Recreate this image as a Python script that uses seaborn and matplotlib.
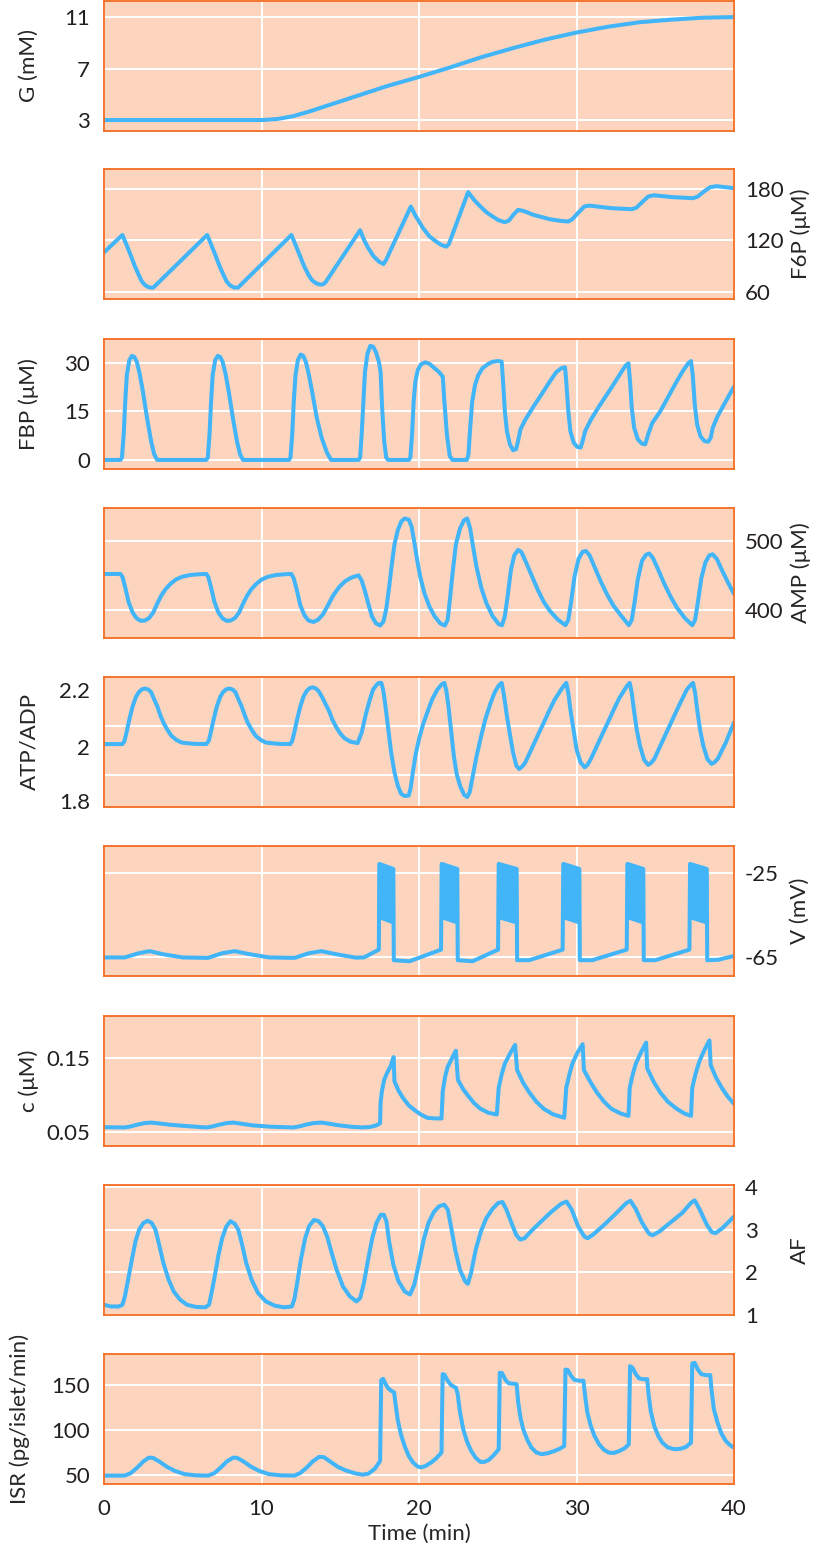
import numpy as np
import pandas as pd
import seaborn as sns
import matplotlib.pyplot as plt

# ---- values (time in min) ----
g_t = [0, 10, 11, 12, 13, 14, 15, 16, 17, 18, 19, 20, 22, 24, 26, 28, 30, 32, 34, 36, 38, 40]
g_val = [3, 3, 3.08, 3.3, 3.65, 4.05, 4.45, 4.85, 5.25, 5.65, 6.0, 6.35, 7.1, 7.9, 8.6, 9.25,
         9.8, 10.25, 10.6, 10.8, 10.95, 11.0]

f6p_t = [0, 1.17, 1.45, 1.69, 1.95, 2.21, 2.4, 2.6, 2.85, 3.12,
         6.55, 6.83, 7.07, 7.33, 7.59, 7.78, 7.98, 8.23, 8.5,
         11.9, 12.18, 12.42, 12.7, 12.99, 13.2, 13.45, 13.7, 13.9, 14.05,
         16.26, 16.5, 16.75, 17.1, 17.45, 17.74, 17.9,
         19.48, 19.8, 20.26, 20.65, 21.04, 21.4, 21.74, 21.9,
         23.12, 23.5, 23.9, 24.3, 24.68, 25.05, 25.45, 25.7, 26.0, 26.29, 26.6, 27.27, 28.3,
         29.0, 29.48, 29.75, 30.15, 30.5, 30.8, 32.2, 33.5, 33.8, 34.2, 34.55, 34.9, 36.1,
         37.4, 37.7, 38.1, 38.5, 38.9, 40]
f6p_val = [106.2, 126.4, 114, 103.1, 90.5, 79.8, 72.5, 68.2, 65.5, 65.1,
           126.4, 114, 103.1, 90.5, 79.8, 72.5, 68.2, 65.5, 65.1,
           126.4, 114, 103.1, 90.5, 79.8, 74, 70.5, 68.8, 69, 71,
           131.9, 121, 112, 102, 95.5, 92.6, 97,
           159.4, 148, 134.2, 125, 119.4, 115, 112.8, 116,
           176.1, 167, 159.4, 152.5, 147.8, 143.5, 141.2, 143, 150, 155.5, 154.5, 149.7, 144.7,
           142.7, 142, 145, 153, 159.5, 160.5, 157.5, 156.3, 158, 165, 171, 172.5, 170.3,
           169.1, 171, 177, 182, 183, 180.8]

fbp_t = [0, 1.04, 1.14, 1.25, 1.35, 1.45, 1.61, 1.77, 1.92, 2.08, 2.26, 2.47, 2.73, 2.99, 3.19, 3.38,
         6.49, 6.59, 6.70, 6.80, 6.90, 7.06, 7.22, 7.37, 7.53, 7.71, 7.92, 8.18, 8.44, 8.64, 8.83,
         11.74, 11.84, 11.95, 12.05, 12.16, 12.31, 12.49, 12.65, 12.81, 12.99, 13.25, 13.51,
         13.82, 14.16, 14.42,
         16.16, 16.26, 16.36, 16.47, 16.57, 16.73, 16.91, 17.09, 17.27, 17.45, 17.56, 17.66,
         17.79, 17.92, 18.05,
         19.35, 19.45, 19.56, 19.66, 19.77, 19.92, 20.13, 20.39, 20.65, 20.91, 21.25, 21.51,
         21.61, 21.77, 21.95, 22.13, 23.04,
         23.14, 23.25, 23.38, 23.56, 23.77, 24.03, 24.36, 24.68, 25.06, 25.25, 25.35, 25.45,
         25.58, 25.77, 25.97, 26.16, 26.29, 26.44, 26.75, 27.27, 27.79, 28.31, 28.7, 29.04,
         29.27, 29.35, 29.48, 29.61, 29.82, 30.05, 30.26, 30.39, 30.55, 30.91, 31.43, 31.95,
         32.47, 32.86, 33.12, 33.3, 33.4, 33.51, 33.66, 33.9, 34.16, 34.36, 34.55, 34.81,
         35.32, 35.84, 36.36, 36.75, 37.09, 37.27, 37.38, 37.51, 37.66, 37.87, 38.13, 38.36,
         38.52, 38.65, 38.96, 39.48, 40]
fbp_val = [0, 0, 0.7, 7.9, 18.1, 26.2, 30.8, 32.1, 31.8, 30.3, 26.7, 21.1, 13, 5.8, 1.7, 0,
           0, 0.7, 7.9, 18.1, 26.2, 30.8, 32.1, 31.8, 30.3, 26.7, 21.1, 13, 5.8, 1.7, 0,
           0, 0.7, 7.9, 18.1, 26.2, 30.8, 32.5, 32.1, 30.3, 26.7, 20.1, 13,
           6.8, 2.2, 0,
           0, 0.7, 7.9, 18.1, 27.2, 32.8, 35.2, 34.9, 33.2, 30.3, 27.2, 16,
           5.8, 0.7, 0,
           0, 0.7, 7.9, 18.1, 24.2, 27.7, 29.5, 30.1, 29.7, 28.6, 27.2, 25.7,
           18.1, 7.9, 1.2, 0, 0,
           1.7, 9.9, 18.1, 23.2, 26.2, 28.3, 29.5, 30.3, 30.5, 30.3, 23.2, 15,
           8.9, 4.8, 3, 3.3, 5.8, 9.4, 12.4, 16.5, 20.3, 24.2, 27, 28.3,
           28.6, 24.2, 15, 8.9, 5.3, 4, 3.8, 5.8, 8.9, 12.4, 16.5, 20.3,
           24.2, 27.2, 29.1, 29.8, 24.2, 16, 9.9, 6.3, 5, 4.8, 7.9, 11.4,
           15, 19.6, 24.2, 27.4, 29.8, 30.5, 26.2, 17, 10.9, 7.3, 5.8, 5.6,
           6.8, 9.9, 13.5, 18.1, 22.6]

amp_t = [0, 1.04, 1.17, 1.35, 1.56, 1.82, 2.08, 2.34, 2.6, 2.86, 3.12, 3.38, 3.64, 3.9, 4.21,
         4.55, 4.94, 5.45, 5.97, 6.49,
         6.62, 6.80, 7.01, 7.27, 7.53, 7.79, 8.05, 8.31, 8.57, 8.83, 9.09, 9.35, 9.66, 10.0,
         10.39, 10.9, 11.42, 11.9,
         12.05, 12.26, 12.47, 12.73, 12.99, 13.3, 13.58, 13.9, 14.21, 14.55, 14.94, 15.32,
         15.71, 16.16, 16.36, 16.57, 16.78, 17.01, 17.27, 17.53, 17.74, 17.92, 18.1, 18.26,
         18.44, 18.65, 18.88, 19.09, 19.35, 19.53, 19.69, 19.87, 20.08, 20.34, 20.65, 20.99,
         21.35, 21.64, 21.82, 21.97, 22.13, 22.34, 22.6, 22.86, 23.06, 23.25, 23.43, 23.64,
         23.95, 24.29, 24.68, 25.06, 25.27, 25.45, 25.64, 25.84, 26.05, 26.29, 26.49, 26.75,
         27.14, 27.53, 27.92, 28.31, 28.83, 29.3, 29.48, 29.66, 29.87, 30.13, 30.39, 30.6,
         30.83, 31.17, 31.56, 31.95, 32.34, 32.86, 33.32, 33.51, 33.69, 33.9, 34.16, 34.42,
         34.62, 34.86, 35.19, 35.58, 35.97, 36.36, 36.88, 37.35, 37.53, 37.71, 37.92, 38.18,
         38.44, 38.65, 38.91, 39.22, 39.61, 40]
amp_val = [452.1, 452.1, 447.9, 432.3, 411.5, 395.8, 387.5, 383.9, 384.4, 388, 395.8, 408.9,
           420.8, 429.7, 437.5, 443.8, 447.9, 450.5, 451.6, 452.1,
           447.9, 432.3, 411.5, 395.8, 387.5, 383.9, 384.4, 388, 395.8, 408.9, 420.8, 429.7,
           437.5, 443.8, 447.9, 450.5, 451.6, 452.1,
           445.3, 427.1, 406.2, 391.7, 384.4, 382.3, 385.4, 393.2, 406.2, 420.8, 433.3, 441.7,
           446.9, 450, 442.7, 427.1, 408.9, 390.6, 380.2, 377.1, 382.8, 401, 432.3, 463.5,
           494.8, 515.6, 528.6, 532.8, 531.2, 520.8, 500, 474, 447.9, 424.5, 405.2, 390.6,
           380.2, 377.1, 385.4, 416.7, 453.1, 494.8, 518.2, 530.2, 532.8, 518.2, 492.2, 463.5,
           432.3, 408.9, 390.6, 379.2, 377.6, 390.6, 421.9, 458.3, 479.2, 487, 484.4, 471.4,
           450.5, 429.7, 411.5, 398.4, 385.4, 377.6, 385.4, 411.5, 447.9, 474, 484.4, 485.4,
           479.2, 460.9, 440.1, 421.9, 406.2, 390.6, 377.6, 385.4, 411.5, 445.3, 471.4, 480.2,
           481.8, 475, 458.3, 437.5, 419.3, 403.6, 388, 377.6, 385.4, 411.5, 445.3, 468.8,
           479.2, 480.7, 474, 458.3, 440.1, 422.9]

atp_t = [0, 1.17, 1.30, 1.43, 1.61, 1.82, 2.03, 2.21, 2.39, 2.60, 2.81, 2.99, 3.17, 3.38,
         3.58, 3.77, 4.03, 4.29, 4.62, 4.94, 5.71, 6.49,
         6.65, 6.78, 6.96, 7.17, 7.38, 7.56, 7.74, 7.95, 8.16, 8.34, 8.52, 8.73, 8.94, 9.12,
         9.38, 9.64, 9.97, 10.29, 11.06, 11.82,
         11.95, 12.08, 12.26, 12.47, 12.68, 12.86, 13.04, 13.25, 13.45, 13.64, 13.84, 14.08,
         14.29, 14.49, 14.73, 14.99, 15.27, 15.64, 16.1,
         16.36, 16.62, 16.88, 17.09, 17.27, 17.45, 17.61, 17.74, 17.87, 18.05, 18.23, 18.44,
         18.65, 18.86, 19.09, 19.35, 19.48, 19.61, 19.79, 20.0, 20.26, 20.52, 20.83, 21.17,
         21.43, 21.61, 21.74, 21.87, 22.03, 22.21, 22.39, 22.6, 22.86, 23.06, 23.22, 23.38,
         23.64, 23.9, 24.21, 24.55, 24.81, 25.06, 25.25, 25.4, 25.58, 25.79, 25.97, 26.18,
         26.36, 26.55, 26.75, 27.14, 27.53, 27.92, 28.31, 28.62, 28.96, 29.17, 29.35, 29.48,
         29.61, 29.82, 30.0, 30.26, 30.52, 30.7, 30.91, 31.3, 31.69, 32.08, 32.47, 32.73,
         32.99, 33.19, 33.38, 33.51, 33.64, 33.82, 34.03, 34.29, 34.55, 34.73, 34.94, 35.32,
         35.71, 36.1, 36.49, 36.75, 37.01, 37.22, 37.4, 37.53, 37.66, 37.84, 38.05, 38.31,
         38.57, 38.75, 38.96, 39.48, 40]
atp_val = [1.926, 1.926, 1.939, 1.973, 2.027, 2.081, 2.119, 2.138, 2.149, 2.153, 2.149, 2.138,
           2.111, 2.081, 2.043, 2.014, 1.984, 1.959, 1.942, 1.932, 1.927, 1.926,
           1.939, 1.973, 2.027, 2.081, 2.119, 2.138, 2.149, 2.153, 2.149, 2.138, 2.111, 2.081,
           2.043, 2.014, 1.984, 1.959, 1.942, 1.932, 1.927, 1.926,
           1.939, 1.973, 2.027, 2.081, 2.122, 2.142, 2.154, 2.158, 2.153, 2.141, 2.119, 2.088,
           2.061, 2.027, 1.997, 1.970, 1.950, 1.936, 1.930,
           1.973, 2.047, 2.108, 2.149, 2.165, 2.176, 2.176, 2.142, 2.081, 1.986, 1.892, 1.811,
           1.757, 1.723, 1.714, 1.716, 1.750, 1.811, 1.885, 1.946, 2.007, 2.054, 2.108, 2.149,
           2.169, 2.176, 2.142, 2.081, 1.986, 1.878, 1.804, 1.757, 1.719, 1.710, 1.730, 1.784,
           1.872, 1.946, 2.027, 2.095, 2.138, 2.165, 2.176, 2.122, 2.041, 1.959, 1.892, 1.838,
           1.824, 1.834, 1.851, 1.905, 1.959, 2.014, 2.068, 2.108, 2.142, 2.162, 2.176, 2.135,
           2.068, 1.980, 1.905, 1.851, 1.831, 1.841, 1.865, 1.919, 1.973, 2.027, 2.081, 2.115,
           2.142, 2.162, 2.176, 2.135, 2.068, 1.986, 1.919, 1.862, 1.841, 1.849, 1.865, 1.919,
           1.973, 2.027, 2.081, 2.115, 2.149, 2.165, 2.176, 2.135, 2.068, 1.986, 1.919, 1.865,
           1.845, 1.851, 1.865, 1.932, 2.014]
# in the reference the ATP/ADP tick labels sit lower than its two grid lines
atp_label_pos = [1.693, 1.916, 2.147]
atp_grid = [1.8, 2.0]

v_t = [0, 1.3, 2.2, 2.9, 3.7, 5, 6.6, 7.5, 8.3, 9.2, 10.5, 12.1, 13, 13.8, 14.7, 16, 16.5, 17.45,
       17.48, 18.37, 18.4, 19.4, 21.4,
       21.44, 22.43, 22.46, 23.4, 25.02,
       25.06, 26.2, 26.23, 27.0, 29.12,
       29.16, 30.18, 30.21, 31.0, 33.19,
       33.23, 34.24, 34.27, 35.0, 37.17,
       37.21, 38.27, 38.3, 39.0, 40]
v_val = [-65.2, -65.2, -63.2, -62.2, -63.6, -65.2, -65.4, -63.2, -62.2, -63.6, -65.2, -65.4,
         -63.2, -62.2, -63.6, -65.3, -65.2, -61.5,
         -20.8, -23.2, -66.5, -67, -61.5,
         -20.8, -23.2, -66.5, -67, -61.5,
         -20.8, -23.2, -66.5, -66.5, -61.5,
         -20.8, -23.2, -66.5, -66.5, -61.5,
         -20.8, -23.2, -66.5, -66.5, -61.5,
         -20.8, -23.2, -66.5, -66.3, -64.5]
# bursts of fast spikes: start/end time, upper and lower envelope
burst_start = [17.48, 21.44, 25.06, 29.16, 33.23, 37.21]
burst_end = [18.37, 22.43, 26.2, 30.18, 34.24, 38.27]
burst_top = [-20.8, -23.2]
burst_low = [-46.5, -49.0]

c_t = [0, 1.3, 1.7, 2.1, 2.6, 3.0, 3.5, 4.2, 5.2, 6.5, 6.9, 7.3, 7.8, 8.2, 8.7, 9.4, 10.5,
       12.0, 12.4, 12.8, 13.3, 13.8, 14.3, 14.9, 15.7, 16.4, 16.9, 17.3, 17.53, 17.56, 17.65,
       17.79, 18.0, 18.18, 18.39, 18.44, 18.7, 18.96, 19.35, 19.74, 20.13, 20.52, 21.0, 21.43,
       21.51, 21.65, 21.82, 22.1, 22.34, 22.47, 22.8, 23.12, 23.5, 23.9, 24.4, 24.94, 25.06,
       25.25, 25.45, 25.8, 26.1, 26.23, 26.6, 27.01, 27.45, 27.92, 28.5, 29.22, 29.35, 29.55,
       29.74, 30.05, 30.39, 30.47, 30.9, 31.3, 31.75, 32.21, 32.8, 33.3, 33.38, 33.57, 33.77,
       34.1, 34.42, 34.49, 34.9, 35.32, 35.8, 36.36, 36.85, 37.27, 37.35, 37.55, 37.79, 38.1,
       38.44, 38.52, 38.85, 39.22, 39.6, 40]
c_val = [0.0565, 0.0561, 0.0575, 0.0598, 0.0621, 0.0627, 0.0615, 0.0598, 0.058, 0.0561, 0.0575,
         0.0598, 0.062, 0.0627, 0.0612, 0.059, 0.0572, 0.0561, 0.0575, 0.0598, 0.062, 0.0627,
         0.0612, 0.059, 0.057, 0.0561, 0.0568, 0.059, 0.0618, 0.0902, 0.106, 0.1207, 0.131,
         0.1382, 0.1513, 0.1186, 0.106, 0.0967, 0.086, 0.0793, 0.0735, 0.0692, 0.0683, 0.0683,
         0.1055, 0.124, 0.1382, 0.15, 0.16, 0.1207, 0.108, 0.0989, 0.089, 0.0814, 0.076,
         0.0736, 0.1099, 0.128, 0.1426, 0.157, 0.1679, 0.1338, 0.117, 0.1033, 0.091, 0.0814,
         0.074, 0.0692, 0.1099, 0.128, 0.1426, 0.157, 0.1688, 0.1338, 0.117, 0.1033, 0.091,
         0.0814, 0.075, 0.0718, 0.1099, 0.128, 0.1426, 0.158, 0.171, 0.136, 0.118, 0.1033,
         0.091, 0.0814, 0.075, 0.0718, 0.1099, 0.128, 0.1448, 0.16, 0.174, 0.1404, 0.124,
         0.1098, 0.098, 0.088]

af_t = [0, 0.43, 0.93, 1.17, 1.33, 1.53, 1.77, 2.0, 2.23, 2.5, 2.77, 3.03, 3.27, 3.5, 3.77,
        4.1, 4.43, 4.83, 5.27, 5.83, 6.43, 6.67, 6.83, 7.03, 7.27, 7.5, 7.77, 8.03, 8.3, 8.53,
        8.77, 9.03, 9.37, 9.77, 10.27, 10.83, 11.43, 11.93, 12.1, 12.3, 12.5, 12.77, 13.03,
        13.33, 13.63, 13.9, 14.17, 14.43, 14.77, 15.17, 15.6, 16.03, 16.27, 16.5, 16.77,
        17.03, 17.3, 17.57, 17.77, 17.93, 18.1, 18.37, 18.7, 19.1, 19.43, 19.7, 20.0, 20.3,
        20.6, 20.93, 21.27, 21.6, 21.83, 22.03, 22.3, 22.6, 22.93, 23.1, 23.3, 23.6, 23.93,
        24.27, 24.67, 25.03, 25.3, 25.53, 25.83, 26.17, 26.43, 26.7, 27.1, 27.77, 28.43,
        29.03, 29.37, 29.7, 30.1, 30.5, 30.7, 31.03, 31.77, 32.5, 33.17, 33.43, 33.77, 34.17,
        34.6, 34.83, 35.27, 35.93, 36.7, 37.27, 37.5, 37.83, 38.27, 38.6, 38.83, 39.27, 40]
af_val = [1.24, 1.2, 1.2, 1.24, 1.44, 1.83, 2.3, 2.73, 3.0, 3.16, 3.21, 3.16, 3.0, 2.65, 2.22,
          1.83, 1.55, 1.36, 1.24, 1.19, 1.18, 1.24, 1.52, 1.91, 2.41, 2.8, 3.08, 3.2, 3.14, 3.0,
          2.65, 2.22, 1.83, 1.52, 1.32, 1.22, 1.18, 1.2, 1.39, 1.83, 2.3, 2.8, 3.09,
          3.23, 3.2, 3.08, 2.84, 2.49, 2.06, 1.67, 1.44, 1.32, 1.4, 1.75, 2.3,
          2.8, 3.16, 3.35, 3.35, 3.2, 2.73, 2.18, 1.79, 1.55, 1.48, 1.71, 2.22, 2.77,
          3.16, 3.41, 3.55, 3.59, 3.47, 3.08, 2.53, 2.06, 1.79, 1.73, 1.98, 2.53, 2.96,
          3.27, 3.49, 3.63, 3.65, 3.49, 3.2, 2.88, 2.77, 2.8, 2.96, 3.2, 3.43,
          3.61, 3.66, 3.47, 3.08, 2.84, 2.8, 2.88, 3.12, 3.38, 3.63, 3.68, 3.48, 3.16,
          2.91, 2.87, 2.96, 3.16, 3.39, 3.63, 3.69, 3.47, 3.12, 2.94, 2.92, 3.04, 3.31]

isr_t = [0, 1.3, 1.7, 2.1, 2.5, 2.85, 3.1, 3.5, 4.0, 4.5, 5.1, 5.8, 6.62, 7.0, 7.4, 7.8, 8.2,
         8.45, 8.85, 9.35, 9.85, 10.45, 11.2, 12.08, 12.45, 12.86, 13.25, 13.65, 13.95, 14.35,
         14.85, 15.35, 15.9, 16.4, 16.8, 17.2, 17.53, 17.6, 17.72, 17.9, 18.05, 18.23, 18.42,
         18.5, 18.65, 18.85, 19.09, 19.35, 19.61, 19.9, 20.13, 20.4, 20.78, 21.1, 21.43, 21.5,
         21.62, 21.8, 22.03, 22.35, 22.45, 22.6, 22.81, 23.05, 23.3, 23.6, 23.9, 24.15, 24.42,
         24.75, 25.06, 25.13, 25.27, 25.5, 25.7, 26.05, 26.2, 26.3, 26.45, 26.62, 26.9, 27.14,
         27.45, 27.79, 28.2, 28.6, 28.95, 29.22, 29.3, 29.45, 29.65, 29.85, 30.13, 30.44,
         30.53, 30.68, 30.91, 31.15, 31.43, 31.75, 32.08, 32.4, 32.73, 33.05, 33.32, 33.4,
         33.55, 33.75, 33.97, 34.29, 34.49, 34.57, 34.72, 34.94, 35.2, 35.45, 35.8, 36.23,
         36.6, 36.95, 37.27, 37.35, 37.5, 37.7, 37.92, 38.2, 38.49, 38.57, 38.72, 38.96, 39.2,
         39.48, 39.75, 40]
isr_val = [49.3, 49.3, 52, 58, 65, 69.2, 69, 65, 59, 54.5, 51, 49.6, 49.3, 52, 58, 65, 69.2,
           69, 65, 59, 54.5, 51, 49.6, 49.3, 52, 58, 65, 70, 69.8, 65,
           59, 55, 52, 50.3, 51.5, 57, 65.5, 155, 156.5, 150, 146, 143.4, 141.5,
           130, 111, 95, 82, 71, 64, 59.5, 58.4, 59.8, 63.9, 68.5, 74.8, 161.7,
           161, 155, 149.6, 146.5, 140, 120, 100.4, 87, 77, 69, 64.5, 64.5, 66.5,
           72, 78.5, 163.2, 163, 155, 151.5, 151, 150.5, 130, 113, 100.4, 88, 80.3,
           75, 73, 74.2, 76.6, 79.2, 82.1, 166.8, 166.2, 160, 155.5, 154.4, 154.4,
           140, 120, 104, 93, 84, 77.8, 74.6, 74.5, 76.6, 79.5, 84, 170.5,
           169, 162, 157, 155.9, 156.2, 140, 120, 104, 93, 85.8, 80.5, 78.5,
           79, 81, 85.8, 173.4, 174.2, 167, 161.7, 160.6, 160.6, 145, 123, 107.7, 96,
           87.6, 83, 80.3]

BLUE = "#41B5F7"
PEACH = "#FDD5BF"
ORANGE = "#F36C21"
INK = "#231F20"

panels = [
    dict(t=g_t, v=g_val, label="G (mM)", ticks=[3, 7, 11], labels=["3", "7", "11"],
         ylim=(2.15, 12.25), side="left", lx=-0.103),
    dict(t=f6p_t, v=f6p_val, label="F6P (μM)", ticks=[60, 120, 180], labels=["60", "120", "180"],
         ylim=(52, 203), side="right", lx=1.089),
    dict(t=fbp_t, v=fbp_val, label="FBP (μM)", ticks=[0, 15, 30], labels=["0", "15", "30"],
         ylim=(-2.8, 37.3), side="left", lx=-0.103),
    dict(t=amp_t, v=amp_val, label="AMP (μM)", ticks=[400, 500], labels=["400", "500"],
         ylim=(359, 548), side="right", lx=1.089),
    dict(t=atp_t, v=atp_val, label="ATP/ADP", ticks=atp_label_pos, labels=["1.8", "2", "2.2"],
         ylim=(1.669, 2.2), side="left", lx=-0.103, grid=atp_grid),
    dict(t=v_t, v=v_val, label="V (mV)", ticks=[-65, -25], labels=["-65", "-25"],
         ylim=(-74, -12.3), side="right", lx=1.089),
    dict(t=c_t, v=c_val, label="c (μM)", ticks=[0.05, 0.15], labels=["0.05", "0.15"],
         ylim=(0.031, 0.207), side="left", lx=-0.103),
    dict(t=af_t, v=af_val, label="AF", ticks=[1, 2, 3, 4], labels=["1", "2", "3", "4"],
         ylim=(1.0, 4.05), side="right", lx=1.089),
    dict(t=isr_t, v=isr_val, label="ISR (pg/islet/min)", ticks=[50, 100, 150],
         labels=["50", "100", "150"], ylim=(40, 184), side="left", lx=-0.117),
]
panel_tops = [1, 169, 339, 508, 677, 846, 1016, 1185, 1354]
PANEL_H = 130

sns.set_theme(style="darkgrid", rc={
    "axes.facecolor": PEACH,
    "axes.edgecolor": ORANGE,
    "axes.linewidth": 1.3,
    "grid.color": "white",
    "grid.linewidth": 1.4,
    "text.color": INK,
    "xtick.color": INK,
    "ytick.color": INK,
})
plt.rcParams["font.family"] = ["Lato", "DejaVu Sans"]

W, H = 822, 1553
fig = plt.figure(figsize=(W / 100, H / 100), dpi=100)

for i, p in enumerate(panels):
    top = panel_tops[i]
    ax = fig.add_axes([104 / W, 1 - (top + PANEL_H) / H, 630 / W, PANEL_H / H])
    df = pd.DataFrame({"t": p["t"], "v": p["v"]})
    if p["label"] == "V (mV)":
        for s, e in zip(burst_start, burst_end):
            ax.fill_between([s, e], burst_low, burst_top, color=BLUE, lw=1.2, zorder=3)
    sns.lineplot(data=df, x="t", y="v", ax=ax, color=BLUE, lw=2.9,
                 estimator=None, sort=False, zorder=4)
    for ln in ax.get_lines():
        ln.set_solid_joinstyle("round")
    ax.set_xlim(0, 40)
    ax.set_xticks([0, 10, 20, 30, 40])
    ax.set_ylim(*p["ylim"])
    ax.set_yticks(p["ticks"], p["labels"])
    if "grid" in p:
        ax.set_yticks(p["grid"], minor=True)
        ax.yaxis.grid(False, which="major")
        ax.yaxis.grid(True, which="minor", color="white", lw=1.4)
    for sp in ax.spines.values():
        sp.set_visible(True)
        sp.set_color(ORANGE)
        sp.set_linewidth(1.3)
        sp.set_zorder(5)
    ax.tick_params(axis="both", which="both", length=0, labelsize=16)
    ax.tick_params(axis="y", pad=10)
    ax.tick_params(axis="x", pad=11)
    ax.set_ylabel(p["label"], fontsize=16)
    if p["side"] == "right":
        ax.yaxis.tick_right()
        ax.yaxis.set_label_position("right")
        ax.tick_params(axis="y", pad=8)
    ax.yaxis.set_label_coords(p["lx"], 0.5)
    if i < len(panels) - 1:
        ax.set_xticklabels([])
        ax.set_xlabel("")
    else:
        ax.set_xticklabels(["0", "10", "20", "30", "40"])
        ax.set_xlabel("Time (min)", fontsize=16)
        ax.xaxis.set_label_coords(0.5, -0.31)

fig.savefig("out.png", dpi=100)
